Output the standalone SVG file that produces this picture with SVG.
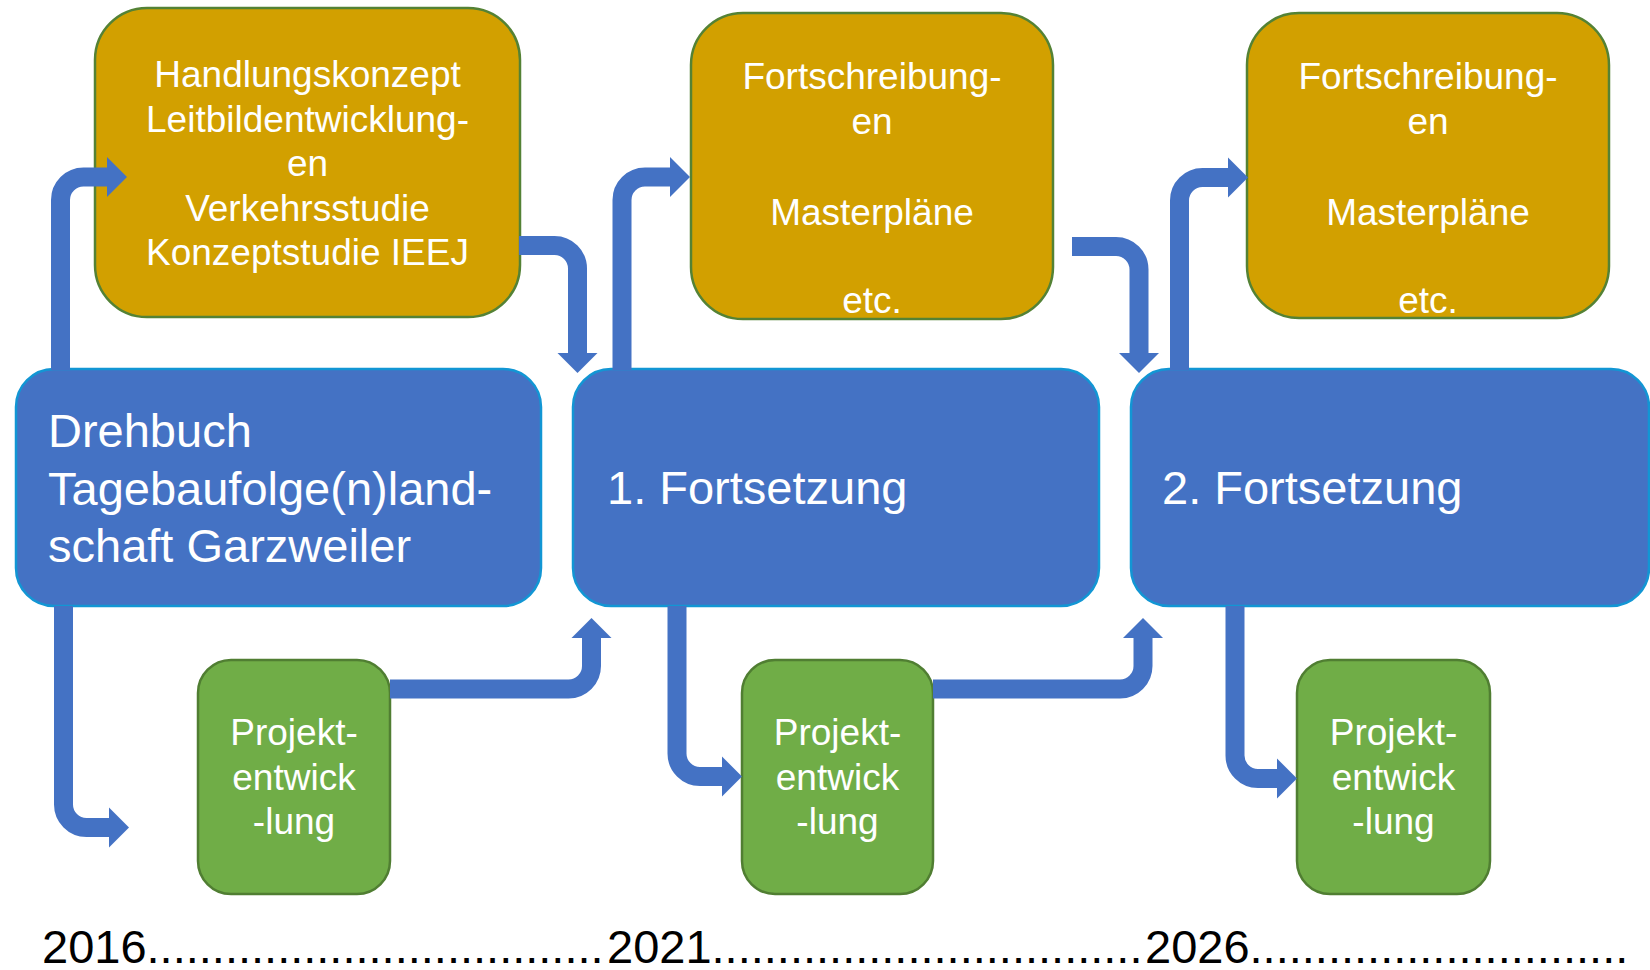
<svg xmlns="http://www.w3.org/2000/svg" width="1650" height="970" viewBox="0 0 1650 970">
  <style>
    .orange { fill: #D2A000; stroke: #548235; stroke-width: 2.5; }
    .blue { fill: #4472C4; stroke: #1296D4; stroke-width: 2.5; }
    .green { fill: #70AD47; stroke: #507E32; stroke-width: 2.5; }
    .t37 { font-family: "Liberation Sans", Arial, sans-serif; font-size: 37px; fill: #FFFFFF; text-anchor: middle; }
    .t47 { font-family: "Liberation Sans", Arial, sans-serif; font-size: 47px; fill: #FFFFFF; }
    .conn { fill: none; stroke: #4472C4; stroke-width: 19; stroke-linejoin: miter; marker-end: url(#head); }
    .time { font-family: "Liberation Sans", Arial, sans-serif; font-size: 47px; fill: #000000; }
  </style>
  <defs>
    <marker id="head" markerUnits="userSpaceOnUse" markerWidth="22" markerHeight="42" refX="0" refY="20" orient="auto" viewBox="0 0 22 40" overflow="visible">
      <path d="M0,0 L20,20 L0,40 Z" fill="#4472C4"/>
    </marker>
  </defs>
  <rect width="1650" height="970" fill="#FFFFFF"/>

  <g id="konzept">
    <rect class="orange" x="95" y="8" width="425" height="309" rx="52" ry="52"/>
    <text class="t37" x="307.5" y="87">Handlungskonzept</text>
    <text class="t37" x="307.5" y="131.5">Leitbildentwicklung-</text>
    <text class="t37" x="307.5" y="176">en</text>
    <text class="t37" x="307.5" y="220.5">Verkehrsstudie</text>
    <text class="t37" x="307.5" y="265">Konzeptstudie IEEJ</text>
  </g>

  <g id="fortschreibung1">
    <rect class="orange" x="691" y="13" width="362" height="306" rx="52" ry="52"/>
    <text class="t37" x="872" y="89">Fortschreibung-</text>
    <text class="t37" x="872" y="133.5">en</text>
    <text class="t37" x="872" y="224.5">Masterpläne</text>
    <text class="t37" x="872" y="313">etc.</text>
  </g>

  <g id="fortschreibung2">
    <rect class="orange" x="1247" y="13" width="362" height="305" rx="52" ry="52"/>
    <text class="t37" x="1428" y="89">Fortschreibung-</text>
    <text class="t37" x="1428" y="133.5">en</text>
    <text class="t37" x="1428" y="224.5">Masterpläne</text>
    <text class="t37" x="1428" y="313">etc.</text>
  </g>

  <g id="drehbuch">
    <rect class="blue" x="16" y="369" width="525" height="237" rx="38" ry="38"/>
    <text class="t47" x="48" y="447">Drehbuch</text>
    <text class="t47" x="48" y="504.5">Tagebaufolge(n)land-</text>
    <text class="t47" x="48" y="562">schaft Garzweiler</text>
  </g>

  <g id="fortsetzung1">
    <rect class="blue" x="573" y="369" width="526" height="237" rx="38" ry="38"/>
    <text class="t47" x="607" y="504">1. Fortsetzung</text>
  </g>

  <g id="fortsetzung2">
    <rect class="blue" x="1131" y="369" width="518" height="237" rx="38" ry="38"/>
    <text class="t47" x="1162" y="504">2. Fortsetzung</text>
  </g>

  <g id="projekt1">
    <rect class="green" x="198" y="660" width="192" height="234" rx="33" ry="33"/>
    <text class="t37" x="294" y="745">Projekt-</text>
    <text class="t37" x="294" y="789.5">entwick</text>
    <text class="t37" x="294" y="834">-lung</text>
  </g>

  <g id="projekt2">
    <rect class="green" x="742" y="660" width="191" height="234" rx="33" ry="33"/>
    <text class="t37" x="837.5" y="745">Projekt-</text>
    <text class="t37" x="837.5" y="789.5">entwick</text>
    <text class="t37" x="837.5" y="834">-lung</text>
  </g>

  <g id="projekt3">
    <rect class="green" x="1297" y="660" width="193" height="234" rx="33" ry="33"/>
    <text class="t37" x="1393.5" y="745">Projekt-</text>
    <text class="t37" x="1393.5" y="789.5">entwick</text>
    <text class="t37" x="1393.5" y="834">-lung</text>
  </g>

  <g id="connectors">
    <path class="conn" d="M60.5 370 V200 A23 23 0 0 1 83.5 177 H107"/>
    <path class="conn" d="M519 245.5 H554.5 A23 23 0 0 1 577.5 268.5 V353"/>
    <path class="conn" d="M622 370 V200 A23 23 0 0 1 645 177 H670"/>
    <path class="conn" d="M1072 246.5 H1116 A23 23 0 0 1 1139 269.5 V353"/>
    <path class="conn" d="M1179.5 370 V200.5 A23 23 0 0 1 1202.5 177.5 H1228"/>
    <path class="conn" d="M63.5 606 V804.5 A23 23 0 0 0 86.5 827.5 H109"/>
    <path class="conn" d="M390 689 H568.5 A23 23 0 0 0 591.5 666 V638"/>
    <path class="conn" d="M677 606 V753.5 A23 23 0 0 0 700 776.5 H722"/>
    <path class="conn" d="M933 689 H1120 A23 23 0 0 0 1143 666 V638"/>
    <path class="conn" d="M1235 606 V755.5 A23 23 0 0 0 1258 778.5 H1277"/>
  </g>

  <g id="timeline">
    <text class="time" y="963"><tspan x="42">2016...................................</tspan><tspan x="607">2021.................................</tspan><tspan x="1145">2026.............................</tspan></text>
  </g>
</svg>
